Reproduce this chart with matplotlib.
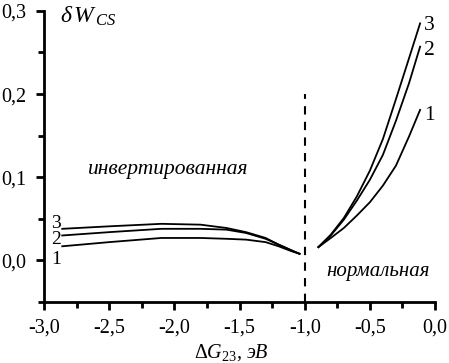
import matplotlib
matplotlib.use("Agg")
import matplotlib.pyplot as plt
from matplotlib.ticker import FixedLocator, MultipleLocator

plt.rcParams['font.family'] = ['Liberation Serif', 'DejaVu Serif']
plt.rcParams['mathtext.fontset'] = 'custom'
plt.rcParams['mathtext.rm'] = 'Liberation Serif'
plt.rcParams['mathtext.it'] = 'Liberation Serif:italic'

# Inverted region
x_inv = [-2.86, -2.5, -2.1, -1.8, -1.6, -1.45, -1.3, -1.2, -1.1, -1.04]
inv_1 = [0.017, 0.022, 0.027, 0.027, 0.026, 0.025, 0.022, 0.017, 0.011, 0.008]
inv_2 = [0.030, 0.034, 0.038, 0.038, 0.037, 0.033, 0.026, 0.019, 0.012, 0.008]
inv_3 = [0.038, 0.041, 0.044, 0.043, 0.039, 0.034, 0.027, 0.019, 0.012, 0.008]

# Normal region
x_norm = [-0.895, -0.8, -0.7, -0.6, -0.5, -0.4, -0.3, -0.2, -0.115]
norm_1 = [0.016, 0.027, 0.039, 0.054, 0.070, 0.090, 0.114, 0.149, 0.181]
norm_2 = [0.016, 0.030, 0.049, 0.072, 0.097, 0.127, 0.168, 0.213, 0.257]
norm_3 = [0.016, 0.031, 0.051, 0.077, 0.108, 0.146, 0.194, 0.243, 0.285]

curve_labels = ["1", "2", "3"]
x_ticks = [-3.0, -2.5, -2.0, -1.5, -1.0, -0.5, 0.0]
x_ticklabels = ["-3,0", "-2,5", "-2,0", "-1,5", "-1,0", "-0,5", "0,0"]
y_ticks = [0.0, 0.1, 0.2, 0.3]
y_ticklabels = ["0,0", "0,1", "0,2", "0,3"]

fig = plt.figure(figsize=(4.49, 3.63), dpi=100)
ax = fig.add_axes([0.098, 0.168, 0.871, 0.802])

for ys in (inv_1, inv_2, inv_3):
    ax.plot(x_inv, ys, color='black', lw=1.3)
for ys in (norm_1, norm_2, norm_3):
    ax.plot(x_norm, ys, color='black', lw=1.3)

ax.plot([-1.0, -1.0], [-0.05, 0.2], color='black', lw=1.5, dashes=(4, 3.5))

ax.set_xlim(-3.0, 0.0)
ax.set_ylim(-0.05, 0.3)
ax.spines['top'].set_visible(False)
ax.spines['right'].set_visible(False)
ax.spines['left'].set_linewidth(2)
ax.spines['bottom'].set_linewidth(2)
ax.spines['left'].set_bounds(-0.05, 0.3)

ax.xaxis.set_major_locator(FixedLocator(x_ticks))
ax.set_xticklabels(x_ticklabels)
ax.yaxis.set_major_locator(FixedLocator(y_ticks))
ax.set_yticklabels(y_ticklabels)
ax.xaxis.set_minor_locator(MultipleLocator(0.25))
ax.yaxis.set_minor_locator(MultipleLocator(0.05))
ax.tick_params(which='major', direction='out', length=6, width=2, labelsize=14.5)
ax.tick_params(axis='y', which='major', pad=7)
ax.tick_params(axis='x', which='major', pad=6)
ax.tick_params(which='minor', direction='out', length=4, width=2)

# curve labels, left
for lab, yv in zip(curve_labels, [0.001, 0.025, 0.044]):
    ax.text(-2.905, yv, lab, fontsize=14, ha='center', va='center')
# curve labels, right
for lab, yv in zip(curve_labels, [0.174, 0.252, 0.283]):
    ax.text(-0.045, yv, lab, fontsize=15.5, ha='center', va='center')

ax.text(-2.05, 0.109, "инвертированная", fontsize=15.5, style='italic', ha='center', va='center')
ax.text(-0.44, -0.013, "нормальная", fontsize=15, style='italic', ha='center', va='center')
ax.text(-2.88, 0.293, r"$\delta\,W_{\,CS}$", fontsize=17, ha='left', va='center')

fig.text(231 / 449, 1 - 353 / 363, r"$\Delta G_{23}$, эВ", fontsize=14.5, style='italic',
         ha='center', va='center')

fig.savefig("out.png", dpi=100)
